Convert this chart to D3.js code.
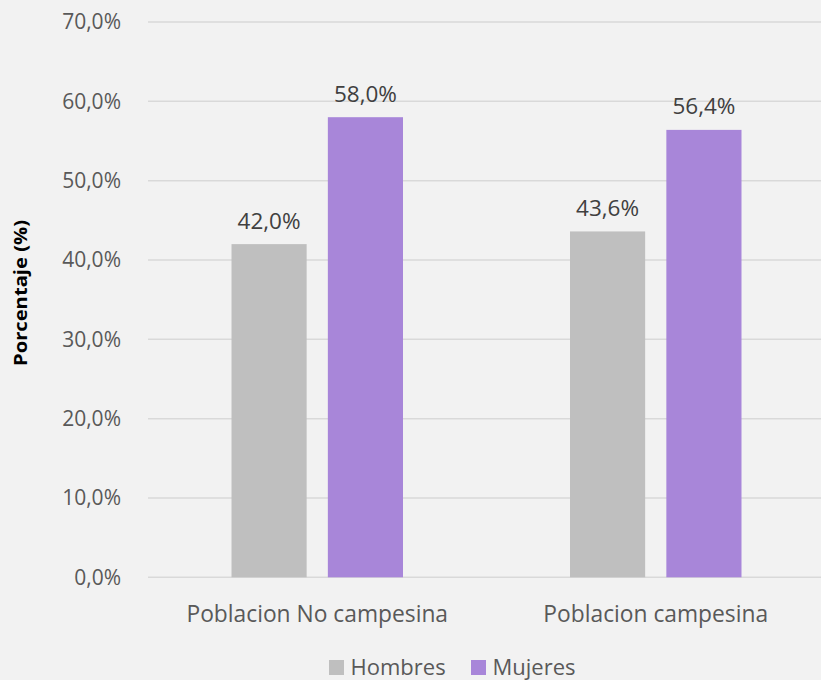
<!DOCTYPE html>
<html><head><meta charset="utf-8">
<script src="https://cdn.jsdelivr.net/npm/d3@7"></script>
<style>body{margin:0;background:#f2f2f2;}svg{display:block;}</style>
</head><body>
<svg id="c" width="821" height="680"></svg>
<script>
const categories = ["Poblacion No campesina", "Poblacion campesina"];
const seriesNames = ["Hombres", "Mujeres"];
const hombres = [42.0, 43.6];
const mujeres = [58.0, 56.4];
const yTicks = [0, 10, 20, 30, 40, 50, 60, 70];
const colors = ["#bfbfbf", "#a886d9"];

const fmt = v => v.toFixed(1).replace(".", ",") + "%";
const font = "'Open Sans', 'Noto Sans', sans-serif";
const svg = d3.select("#c");
svg.append("rect").attr("width", 821).attr("height", 680).attr("fill", "#f2f2f2");

const x0 = d3.scaleBand().domain(categories).range([148, 825]);
const x1 = d3.scaleBand().domain(seriesNames).range([0, 171.5]).paddingInner(0.22);
const y = d3.scaleLinear().domain([0, 70]).range([577.3, 22]);

// gridlines
svg.append("g").selectAll("line").data(yTicks).join("line")
  .attr("x1", 148).attr("x2", 821)
  .attr("y1", d => y(d)).attr("y2", d => y(d))
  .attr("stroke", "#d9d9d9").attr("stroke-width", 1.5);

// y axis labels
svg.append("g").selectAll("text").data(yTicks).join("text")
  .attr("x", 121).attr("y", d => y(d)).attr("dy", "0.35em")
  .attr("text-anchor", "end").attr("font-family", font).attr("font-size", 21)
  .attr("fill", "#595959").text(d => fmt(d));

// y title
svg.append("text").attr("transform", "translate(20,293) rotate(-90)")
  .attr("text-anchor", "middle").attr("dominant-baseline", "central")
  .attr("font-family", font).attr("font-size", 18)
  .attr("font-weight", "bold").attr("fill", "#000")
  .attr("textLength", 146).attr("lengthAdjust", "spacingAndGlyphs")
  .text("Porcentaje (%)");

const data = categories.map((c, i) => ({cat: c, vals: [hombres[i], mujeres[i]]}));
const groupOffset = (x0.bandwidth() - 171.5) / 2;

const g = svg.append("g").selectAll("g").data(data).join("g")
  .attr("transform", d => `translate(${x0(d.cat) + groupOffset},0)`);

const bars = g.selectAll("g").data(d => d.vals.map((v, j) => ({s: seriesNames[j], v, j}))).join("g");
bars.append("rect")
  .attr("x", d => x1(d.s)).attr("width", x1.bandwidth())
  .attr("y", d => y(d.v)).attr("height", d => y(0) - y(d.v))
  .attr("fill", d => colors[d.j]);
bars.append("text")
  .attr("x", d => x1(d.s) + x1.bandwidth() / 2).attr("y", d => y(d.v) - 15.5)
  .attr("text-anchor", "middle").attr("font-family", font).attr("font-size", 22.5)
  .attr("fill", "#404040").text(d => fmt(d.v));

// category labels
svg.append("g").selectAll("text").data(categories).join("text")
  .attr("x", d => x0(d) + x0.bandwidth() / 2).attr("y", 621.5)
  .attr("text-anchor", "middle").attr("font-family", font).attr("font-size", 22.8)
  .attr("fill", "#595959").text(d => d);

// legend
const legX = [329, 471];
const leg = svg.append("g").selectAll("g").data(seriesNames).join("g")
  .attr("transform", (d, i) => `translate(${legX[i]},660)`);
leg.append("rect").attr("width", 15).attr("height", 15).attr("fill", (d, i) => colors[i]);
leg.append("text").attr("x", 21.5).attr("y", 15)
  .attr("font-family", font).attr("font-size", 22).attr("fill", "#595959").text(d => d);
</script>
</body></html>
